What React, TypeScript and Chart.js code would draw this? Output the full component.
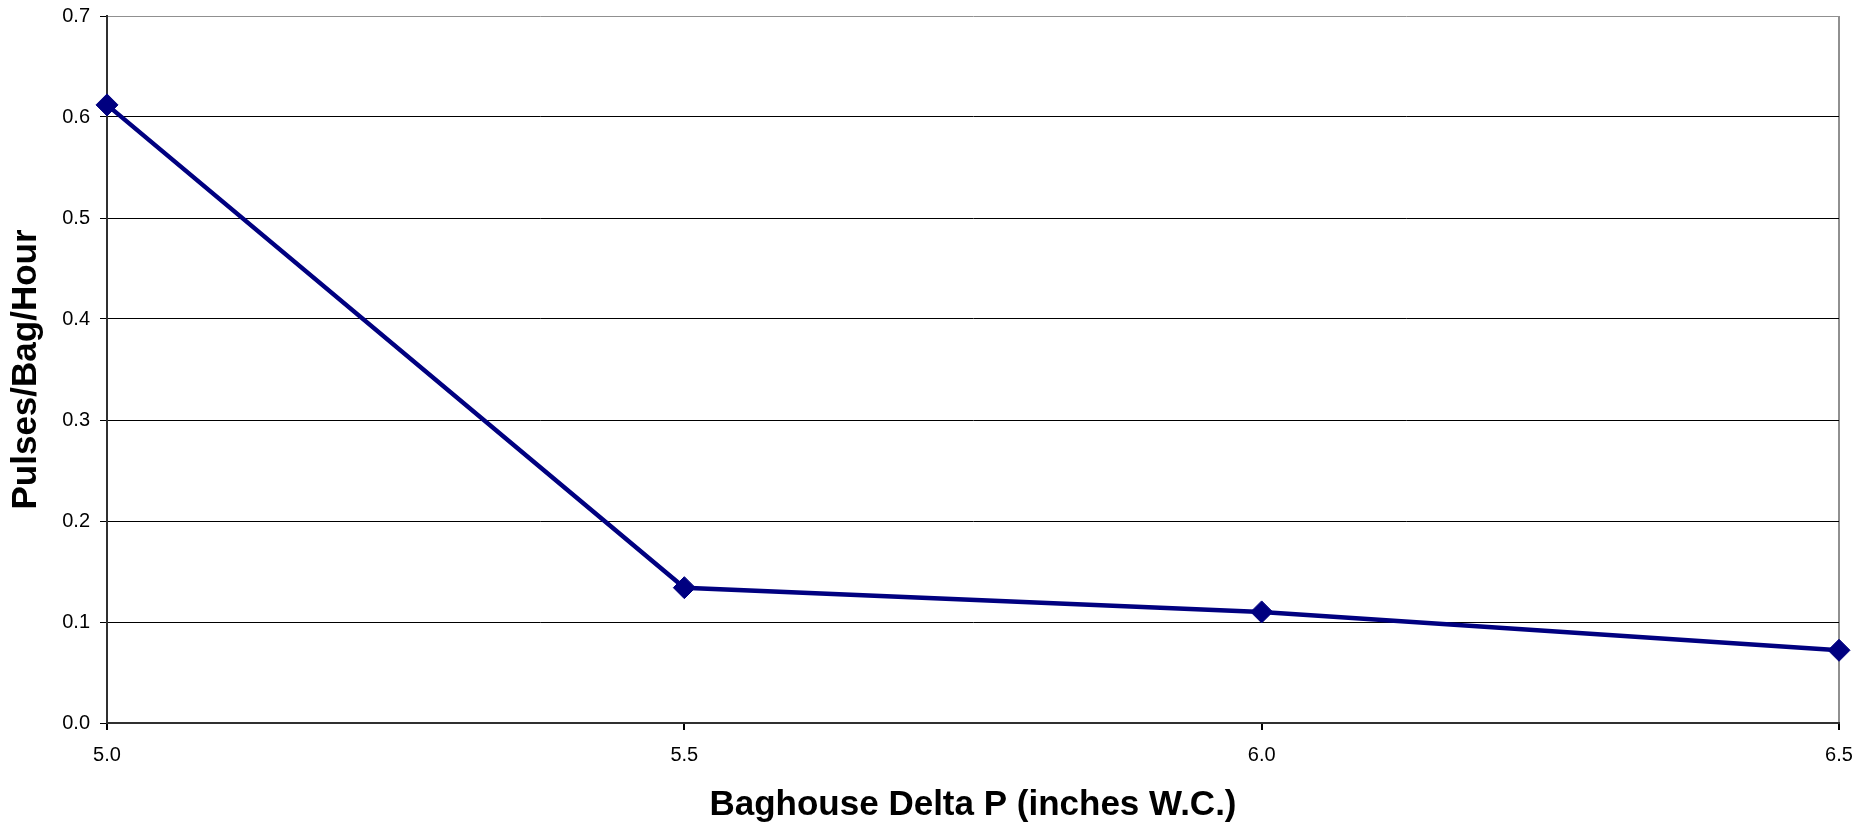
import React, { useEffect, useRef } from "react";
import { Chart, registerables } from "chart.js";

Chart.register(...registerables);

const deltaP = [5.0, 5.5, 6.0, 6.5];
const pulsesPerBagHour = [0.612, 0.134, 0.11, 0.072];
const xTicks = [5.0, 5.5, 6.0, 6.5];
const yTicks = [0, 0.1, 0.2, 0.3, 0.4, 0.5, 0.6, 0.7];
const xTitle = "Baghouse Delta P (inches W.C.)";
const yTitle = "Pulses/Bag/Hour";

const FONT = "'Liberation Sans', Arial, Helvetica, sans-serif";

function zeroPadding(scale: any) {
  scale.paddingTop = 0;
  scale.paddingBottom = 0;
  scale.paddingLeft = 0;
  scale.paddingRight = 0;
}

export default function App() {
  const ref = useRef<HTMLCanvasElement | null>(null);

  useEffect(() => {
    document.body.style.margin = "0";
    const canvas = ref.current;
    if (!canvas) return;
    const chart = new Chart(canvas, {
      type: "line",
      data: {
        datasets: [
          {
            label: "Pulses",
            data: deltaP.map((x, i) => ({ x, y: pulsesPerBagHour[i] })),
            borderColor: "#000080",
            backgroundColor: "#000080",
            borderWidth: 4.5,
            pointStyle: "rectRot",
            pointRadius: 11,
            pointBorderWidth: 1,
            pointBackgroundColor: "#000080",
            pointBorderColor: "#000080",
            tension: 0,
            fill: false,
            clip: false,
          } as any,
        ],
      },
      options: {
        responsive: false,
        animation: false,
        layout: { autoPadding: false, padding: { top: 16, right: 21, left: 0, bottom: 0 } },
        plugins: {
          legend: { display: false },
          tooltip: { enabled: false },
        },
        scales: {
          x: {
            type: "linear",
            min: xTicks[0],
            max: xTicks[xTicks.length - 1],
            afterBuildTicks: (scale: any) => {
              scale.ticks = xTicks.map((v) => ({ value: v }));
            },
            afterFit: (scale: any) => {
              scale.height = 103;
              zeroPadding(scale);
            },
            ticks: {
              callback: (v: any) => Number(v).toFixed(1),
              font: { family: FONT, size: 20 },
              color: "#000",
              padding: 13,
              maxRotation: 0,
            },
            grid: {
              color: (ctx: any) =>
                ctx.tick && ctx.tick.value === xTicks[xTicks.length - 1]
                  ? "#909090"
                  : "rgba(0,0,0,0)",
              tickColor: "#000",
              tickLength: 7,
              lineWidth: 2,
            },
            border: { color: "#303030", width: 2 },
            title: {
              display: true,
              text: xTitle,
              font: { family: FONT, size: 35, weight: "bold" },
              color: "#000",
              padding: { top: 0, bottom: 0 },
            },
          },
          y: {
            type: "linear",
            min: yTicks[0],
            max: yTicks[yTicks.length - 1],
            afterBuildTicks: (scale: any) => {
              scale.ticks = yTicks.map((v) => ({ value: v }));
            },
            afterFit: (scale: any) => {
              scale.width = 107;
              zeroPadding(scale);
            },
            ticks: {
              callback: (v: any) => Number(v).toFixed(1),
              font: { family: FONT, size: 20 },
              color: "#000",
              padding: 10,
            },
            grid: {
              color: (ctx: any) =>
                ctx.tick && Math.abs(ctx.tick.value - yTicks[yTicks.length - 1]) < 1e-9
                  ? "#909090"
                  : "#000",
              tickColor: "#000",
              tickLength: 7,
              lineWidth: 1,
            },
            border: { color: "#303030", width: 2 },
            title: {
              display: true,
              text: yTitle,
              font: { family: FONT, size: 35, weight: "bold" },
              color: "#000",
              padding: { top: 5, bottom: 0 },
            },
          },
        },
      },
    });
    return () => chart.destroy();
  }, []);

  return (
    <div style={{ width: 1860, height: 826, background: "#fff" }}>
      <canvas ref={ref} width={1860} height={826} style={{ display: "block" }} />
    </div>
  );
}
